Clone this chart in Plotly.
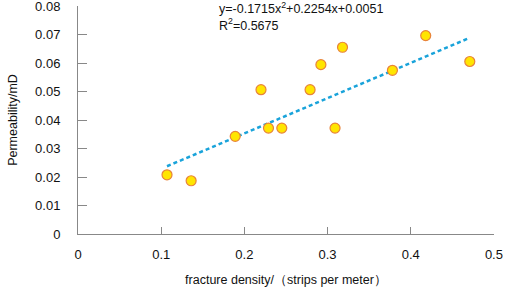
import plotly.graph_objects as go

fracture_density = [0.107, 0.136, 0.189, 0.220, 0.229, 0.245, 0.279, 0.292, 0.309, 0.318, 0.378, 0.418, 0.471]
permeability = [0.0208, 0.0187, 0.0343, 0.0507, 0.0372, 0.0372, 0.0507, 0.0595, 0.0372, 0.0656, 0.0575, 0.0697, 0.0606]
trend_x = [0.107, 0.470]
trend_y = [0.0238, 0.0688]
equation_text = "y=-0.1715x<sup>2</sup>+0.2254x+0.0051<br>R<sup>2</sup>=0.5675"

fig = go.Figure()
fig.add_trace(go.Scatter(x=trend_x, y=trend_y, mode="lines",
                         line=dict(color="#19A3DA", width=2.5, dash="4px,3px"),
                         showlegend=False, cliponaxis=False))
fig.add_trace(go.Scatter(x=fracture_density, y=permeability, mode="markers",
                         marker=dict(size=10, color="#FFE500", line=dict(color="#E8833A", width=1.2)),
                         showlegend=False, cliponaxis=False))

fig.add_annotation(x=(217 - 78) / (505 - 78 - 11), y=1.0 + 8 / 228, xref="paper", yref="paper",
                   text=equation_text, showarrow=False, xanchor="left", yanchor="top", align="left",
                   font=dict(size=12.5, color="#111"))

fig.update_layout(
    width=505, height=290,
    margin=dict(l=78, r=11, t=6, b=56, autoexpand=False),
    paper_bgcolor="white", plot_bgcolor="white",
    font=dict(family="Liberation Sans, Arial, sans-serif", size=13, color="#111"),
    xaxis=dict(range=[0, 0.5001], tickvals=[0, 0.1, 0.2, 0.3, 0.4, 0.5],
               ticktext=["0", "0.1", "0.2", "0.3", "0.4", "0.5"],
               showgrid=False, zeroline=False, showline=True, linecolor="#888", linewidth=1,
               ticks="inside", ticklen=7, tickcolor="#888", ticklabelstandoff=8, automargin=False,
               ticklabeloverflow="allow",
               title=dict(text="fracture density/（strips per meter）", standoff=14, font=dict(size=12.5))),
    yaxis=dict(range=[0, 0.0801], tickvals=[0, 0.01, 0.02, 0.03, 0.04, 0.05, 0.06, 0.07, 0.08],
               ticktext=["0", "0.01", "0.02", "0.03", "0.04", "0.05", "0.06", "0.07", "0.08"],
               showgrid=False, zeroline=False, showline=True, linecolor="#888", linewidth=1,
               ticks="inside", ticklen=9, tickcolor="#888", ticklabelstandoff=14, automargin=False,
               ticklabeloverflow="allow",
               title=dict(text="Permeability/mD", standoff=14, font=dict(size=12.5))),
)
fig.write_html("out.html", config={"displayModeBar": False},
               post_script="document.body.style.margin='0';document.body.style.overflow='hidden';")
